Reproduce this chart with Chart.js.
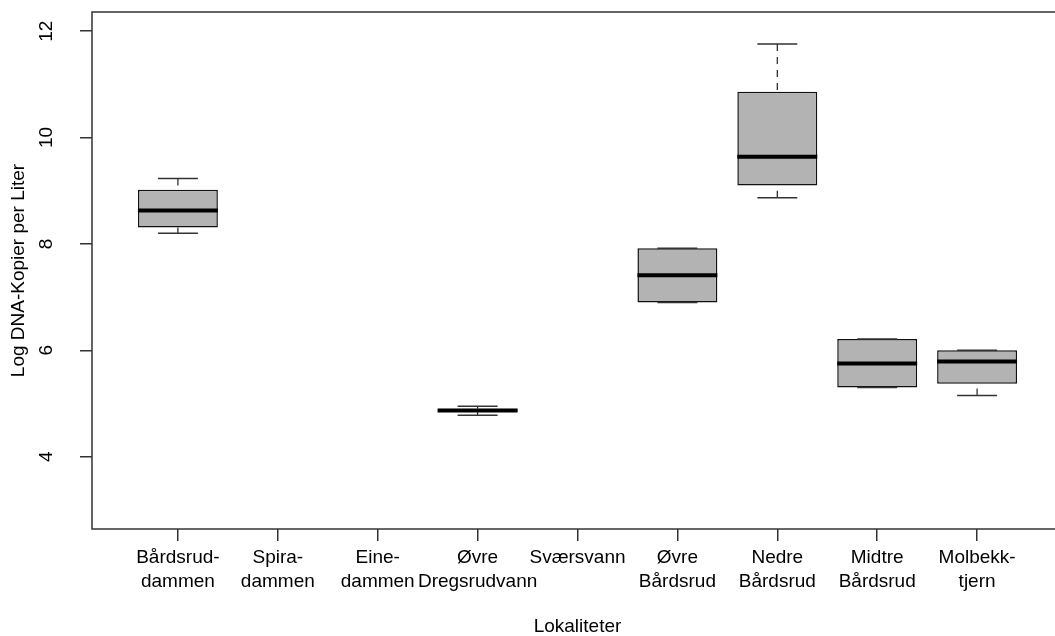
<!DOCTYPE html>
<html>
<head>
<meta charset="utf-8">
<script src="https://cdn.jsdelivr.net/npm/chart.js@4.4.0/dist/chart.umd.min.js"></script>
<style>
  html, body { margin: 0; padding: 0; background: #fff; overflow: hidden; }
  #wrap { width: 1100px; height: 636px; }
</style>
</head>
<body>
<div id="wrap"><canvas id="chart" width="1100" height="636"></canvas></div>
<script>
// Boxplot values (empty sites have no samples)
var categories = [
    ['Bårdsrud-', 'dammen'], ['Spira-', 'dammen'], ['Eine-', 'dammen'],
    ['Øvre', 'Dregsrudvann'], 'Sværsvann', ['Øvre', 'Bårdsrud'],
    ['Nedre', 'Bårdsrud'], ['Midtre', 'Bårdsrud'], ['Molbekk-', 'tjern']
];
var mins    = [8.20, null, null, 4.78, null, 6.90,  8.87, 5.30, 5.15];
var q1s     = [8.31, null, null, 4.84, null, 6.90,  9.10, 5.30, 5.37];
var medians = [8.63, null, null, 4.87, null, 7.41,  9.64, 5.75, 5.79];
var q3s     = [9.02, null, null, 4.90, null, 7.92, 10.86, 6.21, 6.00];
var maxs    = [9.23, null, null, 4.95, null, 7.92, 11.76, 6.21, 6.00];
var yTicks = [4, 6, 8, 10, 12];

var FONT = "'Liberation Sans', Arial, Helvetica, sans-serif";
var FSIZE = 19;

// one floating bar per site that has data (q1..q3)
var boxData = [];
categories.forEach(function(c, i) {
    if (q1s[i] !== null) boxData.push({ x: i + 1, y: [q1s[i], q3s[i]], idx: i });
});

var boxExtras = {
    id: 'boxExtras',
    beforeDraw: function(chart) {
        var ctx = chart.ctx;
        ctx.save();
        ctx.fillStyle = '#fff';
        ctx.fillRect(0, 0, chart.width, chart.height);
        ctx.restore();
    },
    afterDatasetsDraw: function(chart) {
        var ctx = chart.ctx;
        var xs = chart.scales.x, ys = chart.scales.y;
        var meta = chart.getDatasetMeta(0);
        ctx.save();
        meta.data.forEach(function(bar, j) {
            var i = boxData[j].idx;
            var xc = xs.getPixelForValue(i + 1);
            var hw = bar.width / 2;
            // median
            ctx.strokeStyle = '#000';
            ctx.lineWidth = 4;
            ctx.setLineDash([]);
            ctx.beginPath();
            ctx.moveTo(xc - hw, ys.getPixelForValue(medians[i]));
            ctx.lineTo(xc + hw, ys.getPixelForValue(medians[i]));
            ctx.stroke();
            // whiskers (dashed, drawn from the end towards the box)
            ctx.lineWidth = 1.2;
            ctx.strokeStyle = '#222';
            ctx.setLineDash([7, 6]);
            ctx.beginPath();
            ctx.moveTo(xc, ys.getPixelForValue(maxs[i]));
            ctx.lineTo(xc, ys.getPixelForValue(q3s[i]));
            ctx.moveTo(xc, ys.getPixelForValue(mins[i]));
            ctx.lineTo(xc, ys.getPixelForValue(q1s[i]));
            ctx.stroke();
            // staples
            ctx.setLineDash([]);
            ctx.strokeStyle = '#333';
            ctx.lineWidth = 1.5;
            ctx.beginPath();
            ctx.moveTo(xc - hw / 2, ys.getPixelForValue(maxs[i]));
            ctx.lineTo(xc + hw / 2, ys.getPixelForValue(maxs[i]));
            ctx.moveTo(xc - hw / 2, ys.getPixelForValue(mins[i]));
            ctx.lineTo(xc + hw / 2, ys.getPixelForValue(mins[i]));
            ctx.stroke();
        });
        ctx.restore();
    },
    afterDraw: function(chart) {
        var ctx = chart.ctx;
        var a = chart.chartArea;
        var ys = chart.scales.y;
        ctx.save();
        // frame round the plot
        ctx.strokeStyle = '#333';
        ctx.lineWidth = 1.5;
        ctx.strokeRect(a.left, a.top, a.right - a.left, a.bottom - a.top);
        // y tick labels, parallel to the axis like R does
        ctx.fillStyle = '#000';
        ctx.font = FSIZE + 'px ' + FONT;
        ctx.textAlign = 'center';
        ctx.textBaseline = 'middle';
        yTicks.forEach(function(v) {
            ctx.save();
            ctx.translate(47, ys.getPixelForValue(v));
            ctx.rotate(-Math.PI / 2);
            ctx.fillText(String(v), 0, 0);
            ctx.restore();
        });
        ctx.restore();
    }
};

new Chart(document.getElementById('chart'), {
    type: 'bar',
    data: {
        datasets: [{
            data: boxData,
            backgroundColor: '#b3b3b3',
            borderColor: '#111',
            borderWidth: 1.5,
            borderSkipped: false,
            barPercentage: 0.8,
            categoryPercentage: 1.0
        }]
    },
    options: {
        responsive: false,
        animation: false,
        layout: { padding: { left: 0, right: 37, top: 12, bottom: 0 } },
        plugins: {
            legend: { display: false },
            tooltip: { enabled: false }
        },
        scales: {
            x: {
                type: 'linear',
                offset: false,
                min: 0.14,
                max: 9.86,
                afterBuildTicks: function(scale) {
                    scale.ticks = categories.map(function(c, i) { return { value: i + 1 }; });
                },
                afterFit: function(scale) { scale.height = 107; },
                grid: { offset: false, drawOnChartArea: false, drawTicks: true, tickLength: 12, color: '#333', lineWidth: 1.5 },
                border: { display: false },
                ticks: {
                    autoSkip: false,
                    maxRotation: 0,
                    padding: 4,
                    color: '#000',
                    font: { family: FONT, size: FSIZE, lineHeight: 1.3 },
                    callback: function(value) { return categories[value - 1]; }
                },
                title: {
                    display: true,
                    text: 'Lokaliteter',
                    color: '#000',
                    font: { family: FONT, size: FSIZE, lineHeight: 1.0 },
                    padding: { top: 0, bottom: 0 }
                }
            },
            y: {
                min: 2.64,
                max: 12.36,
                afterBuildTicks: function(scale) {
                    scale.ticks = yTicks.map(function(v) { return { value: v }; });
                },
                afterFit: function(scale) { scale.width = 92; },
                grid: { drawOnChartArea: false, drawTicks: true, tickLength: 12, color: '#333', lineWidth: 1.5 },
                border: { display: false },
                ticks: { display: false },
                title: {
                    display: true,
                    text: 'Log DNA-Kopier per Liter',
                    color: '#000',
                    font: { family: FONT, size: FSIZE, lineHeight: 1.0 },
                    padding: { top: 9, bottom: 0 }
                }
            }
        }
    },
    plugins: [boxExtras]
});
</script>
</body>
</html>
